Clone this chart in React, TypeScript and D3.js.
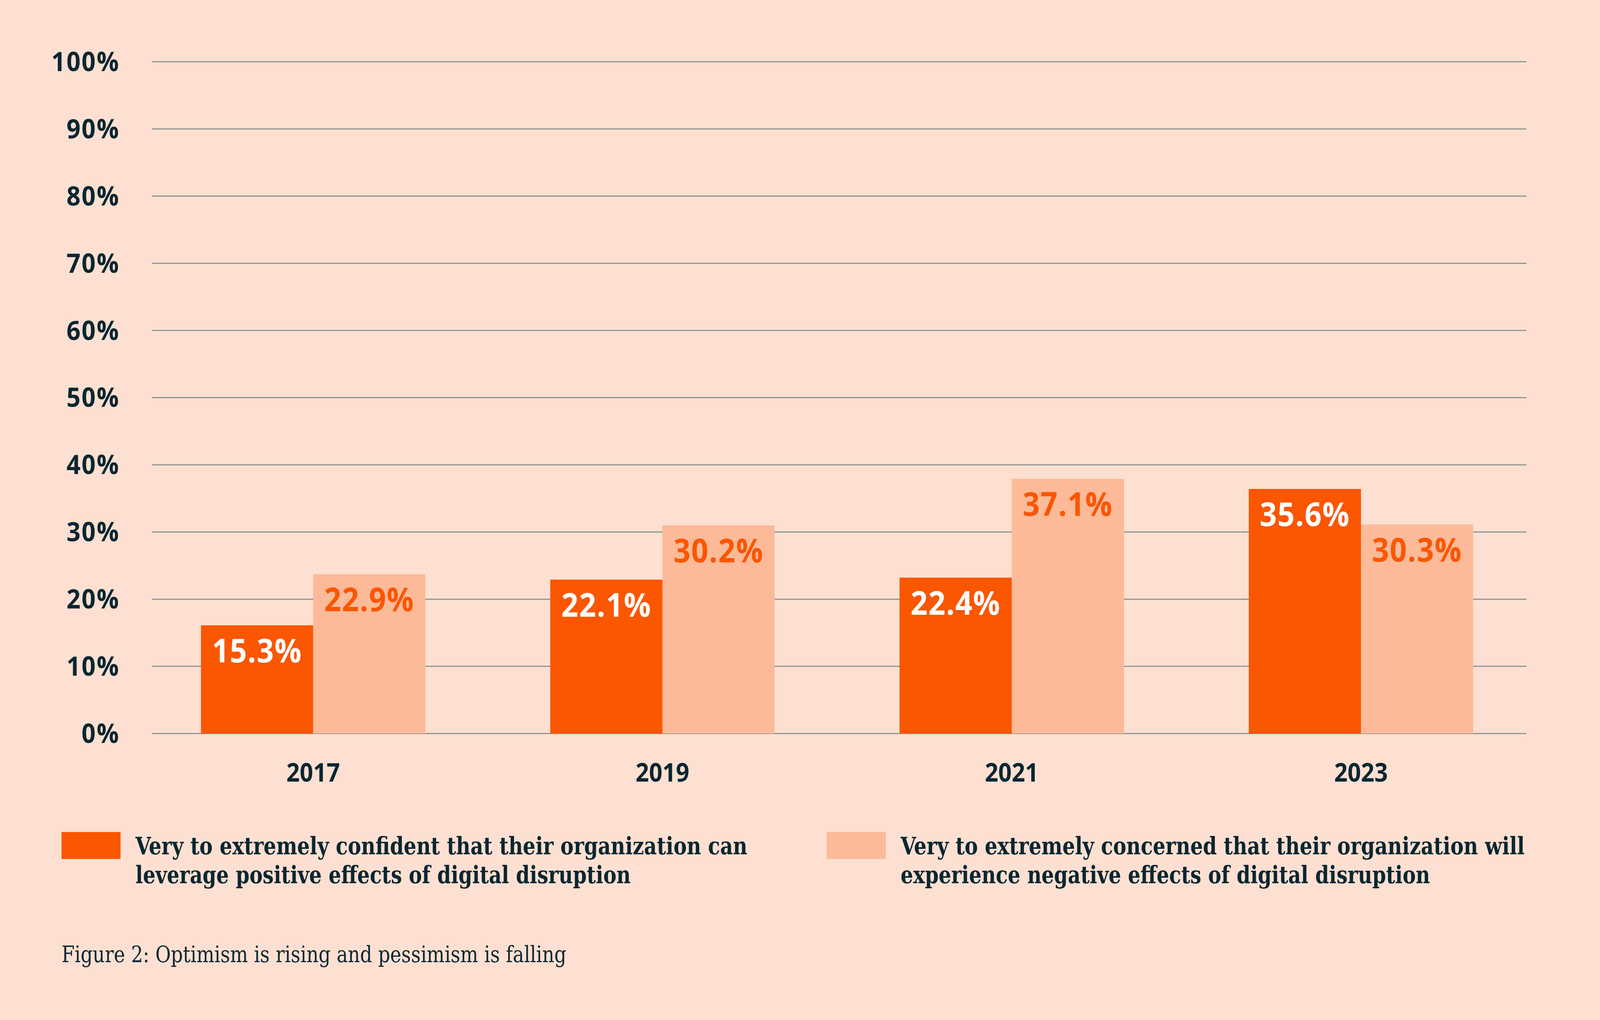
import { useEffect, useRef } from 'react'
import * as d3 from 'd3'

const YEARS = ['2017', '2019', '2021', '2023']
const CONFIDENT = [15.3, 22.1, 22.4, 35.6]
const CONCERNED = [22.9, 30.2, 37.1, 30.3]
const SERIES = ['confident', 'concerned']
const Y_TICKS = [0, 10, 20, 30, 40, 50, 60, 70, 80, 90, 100]
const LEGEND_LINES = [
  [
    'Very to extremely confident that their organization can',
    'leverage positive effects of digital disruption',
  ],
  [
    'Very to extremely concerned that their organization will',
    'experience negative effects of digital disruption',
  ],
]
const CAPTION = 'Figure 2: Optimism is rising and pessimism is falling'

const WIDTH = 4500
const HEIGHT = 2610
const BG = '#fde0d1'
const DARK = '#fb5600'
const LIGHT = '#fcba98'
const INK = '#0b2631'
const GRID = '#7b878b'
const SANS = '"Open Sans", Roboto, sans-serif'
const SLAB = '"DejaVu Serif", serif'

// bars in the original sit a touch above their gridline value
const BAR_LIFT = 14

// measured text extents of the legend lines and caption in the original
const LEGEND_X = [173, 2325]
const LEGEND_WIDTHS = [
  [1721, 1393],
  [1755, 1489],
]
const CAPTION_WIDTH = 1420

interface BarDatum {
  year: string
  series: string
  value: number
}

export default function App() {
  const svgRef = useRef<SVGSVGElement | null>(null)

  useEffect(() => {
    document.body.style.margin = '0'
    if (!svgRef.current) {
      return
    }

    const svg = d3.select(svgRef.current)
    svg.selectAll('*').remove()

    const plotLeft = 427
    const plotRight = 4293

    const y = d3.scaleLinear().domain([0, 100]).range([1877, 158])

    const x0 = d3
      .scaleBand<string>()
      .domain(YEARS)
      .range([plotLeft, plotRight])
      .paddingInner(0.3576)
      .paddingOuter(0.1466)
      .align(0.48)

    const x1 = d3.scaleBand<string>().domain(SERIES).range([0, x0.bandwidth()])

    const color = d3.scaleOrdinal<string, string>().domain(SERIES).range([DARK, LIGHT])
    const labelColor = d3
      .scaleOrdinal<string, string>()
      .domain(SERIES)
      .range(['#ffffff', DARK])

    const bars: BarDatum[] = YEARS.flatMap((year, i) => [
      { year, series: 'confident', value: CONFIDENT[i] },
      { year, series: 'concerned', value: CONCERNED[i] },
    ])

    svg.append('rect').attr('width', WIDTH).attr('height', HEIGHT).attr('fill', BG)

    // gridlines
    svg
      .append('g')
      .selectAll('line')
      .data(Y_TICKS)
      .enter()
      .append('line')
      .attr('x1', plotLeft)
      .attr('x2', plotRight)
      .attr('y1', (d: number) => y(d))
      .attr('y2', (d: number) => y(d))
      .attr('stroke', GRID)
      .attr('stroke-width', 2.5)

    // y tick labels
    svg
      .append('g')
      .selectAll('text')
      .data(Y_TICKS)
      .enter()
      .append('text')
      .attr('x', 337)
      .attr('y', (d: number) => y(d) + 24)
      .attr('text-anchor', 'end')
      .attr('font-family', SANS)
      .attr('font-weight', 700)
      .attr('font-size', 69)
      .attr('letter-spacing', 3)
      .attr('fill', INK)
      .text((d: number) => `${d}%`)

    // bars
    svg
      .append('g')
      .selectAll('rect')
      .data(bars)
      .enter()
      .append('rect')
      .attr('x', (d: BarDatum) => (x0(d.year) ?? 0) + (x1(d.series) ?? 0))
      .attr('y', (d: BarDatum) => y(d.value) - BAR_LIFT)
      .attr('width', x1.bandwidth())
      .attr('height', (d: BarDatum) => y(0) - y(d.value) + BAR_LIFT)
      .attr('fill', (d: BarDatum) => color(d.series))

    // value labels
    svg
      .append('g')
      .selectAll('text')
      .data(bars)
      .enter()
      .append('text')
      .attr('x', (d: BarDatum) => (x0(d.year) ?? 0) + (x1(d.series) ?? 0) + x1.bandwidth() / 2)
      .attr('y', (d: BarDatum) => y(d.value) - BAR_LIFT + 95)
      .attr('text-anchor', 'middle')
      .attr('font-family', SANS)
      .attr('font-weight', 700)
      .attr('font-size', 84)
      .attr('letter-spacing', 2)
      .attr('fill', (d: BarDatum) => labelColor(d.series))
      .text((d: BarDatum) => `${d.value.toFixed(1)}%`)

    // x labels
    svg
      .append('g')
      .selectAll('text')
      .data(YEARS)
      .enter()
      .append('text')
      .attr('x', (d: string) => (x0(d) ?? 0) + x0.bandwidth() / 2)
      .attr('y', 2000)
      .attr('text-anchor', 'middle')
      .attr('font-family', SANS)
      .attr('font-weight', 700)
      .attr('font-size', 66)
      .attr('fill', INK)
      .text((d: string) => d)

    // legend
    const legend = svg
      .append('g')
      .selectAll('g')
      .data(SERIES)
      .enter()
      .append('g')
      .attr('transform', (_: string, i: number) => `translate(${LEGEND_X[i]}, 2129)`)

    legend
      .append('rect')
      .attr('width', 166)
      .attr('height', 69)
      .attr('fill', (d: string) => color(d))

    legend.each(function (_: string, i: number) {
      d3.select(this)
        .selectAll('text')
        .data(LEGEND_LINES[i])
        .enter()
        .append('text')
        .attr('x', 208)
        .attr('y', (_: string, j: number) => 57 + j * 74)
        .attr('font-family', SLAB)
        .attr('font-stretch', 'condensed')
        .attr('font-weight', 700)
        .attr('font-size', 62)
        .attr('fill', INK)
        .attr('textLength', (_: string, j: number) => LEGEND_WIDTHS[i][j])
        .attr('lengthAdjust', 'spacingAndGlyphs')
        .text((d: string) => d)
    })

    svg
      .append('text')
      .attr('x', 173)
      .attr('y', 2462)
      .attr('font-family', SLAB)
      .attr('font-stretch', 'condensed')
      .attr('font-weight', 400)
      .attr('font-size', 58)
      .attr('fill', INK)
      .attr('textLength', CAPTION_WIDTH)
      .attr('lengthAdjust', 'spacingAndGlyphs')
      .text(CAPTION)
  }, [])

  return (
    <svg
      ref={svgRef}
      viewBox={`0 0 ${WIDTH} ${HEIGHT}`}
      preserveAspectRatio="none"
      style={{
        display: 'block',
        position: 'absolute',
        left: 0,
        top: 0,
        width: '100vw',
        height: '100vh',
      }}
    />
  )
}
